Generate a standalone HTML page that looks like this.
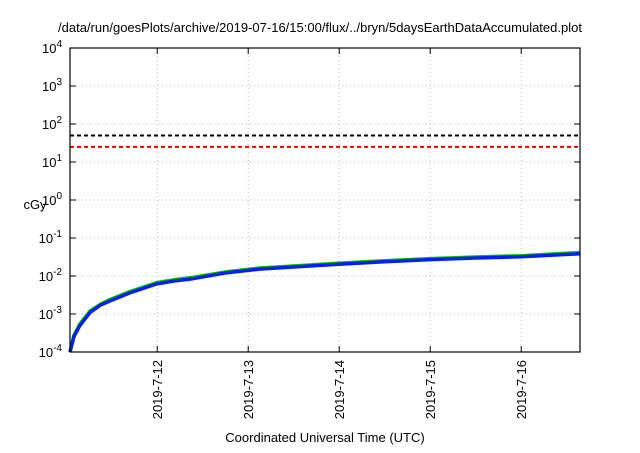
<!DOCTYPE html>
<html><head><meta charset="utf-8"><style>
body{margin:0;background:#fff;font-family:"Liberation Sans",sans-serif}
svg text{font-family:"Liberation Sans",sans-serif;fill:#000}
</style></head><body>
<svg id="c" width="640" height="448" xmlns="http://www.w3.org/2000/svg"></svg>
<script>
const hours=[0,1,2.6,5.3,8,10.5,15.8,22.9,28,32.4,41.4,50,60,71,83,95,107,119,134.5];
const blueVals=[0.0001,0.00025,0.0005,0.0011,0.0017,0.0022,0.0036,0.0062,0.0075,0.0085,0.0122,0.0152,0.0175,0.0205,0.0238,0.027,0.0298,0.032,0.0385];
const greenVals=[0.0001,0.00027,0.00055,0.0012,0.0018,0.0024,0.0039,0.0067,0.0081,0.0092,0.013,0.0162,0.0186,0.0218,0.0253,0.0287,0.0317,0.0342,0.0415];
const yTickExp=[-4,-3,-2,-1,0,1,2,3,4];
const xTickLabels=["2019-7-12","2019-7-13","2019-7-14","2019-7-15","2019-7-16"];
const xTickHours=[23,47,71,95,119];
const thresholds=[50,25];
const thresholdColors=["#000","#e00"];
const L=70,R=580,T=48,B=352;
const startH=0,endH=134.5;
function X(h){return L+(h-startH)/(endH-startH)*(R-L);}
function Y(v){return B-(Math.log10(v)+4)/8*(B-T);}
const svg=document.getElementById('c');const NS="http://www.w3.org/2000/svg";
function el(t,a,p){const e=document.createElementNS(NS,t);for(const k in a)e.setAttribute(k,a[k]);(p||svg).appendChild(e);return e;}
const title=el('text',{x:320,y:32,'text-anchor':'middle','font-size':13});


title.textContent="/data/run/goesPlots/archive/2019-07-16/15:00/flux/../bryn/5daysEarthDataAccumulated.plot";
yTickExp.forEach(e=>{const y=Y(Math.pow(10,e));
 if(e>-4&&e<4){const g=el('line',{x1:L,x2:R,y1:y,y2:y,stroke:'#bbb','stroke-dasharray':'1,3'});
 }
 const t=el('text',{x:L-8,y:y+5,'text-anchor':'end','font-size':13});
 
 
 t.textContent='10';const s=el('tspan',{dy:-6,'font-size':10},t);s.textContent=e;
 el('line',{x1:L,x2:L+6,y1:y,y2:y,stroke:'#000'});el('line',{x1:R,x2:R-6,y1:y,y2:y,stroke:'#000'});
});
xTickHours.forEach((h,i)=>{const x=X(h);
 const g=el('line',{x1:x,x2:x,y1:T,y2:B,stroke:'#bbb','stroke-dasharray':'1,3'});
 
 el('line',{x1:x,x2:x,y1:B,y2:B-6,stroke:'#000'});el('line',{x1:x,x2:x,y1:T,y2:T+6,stroke:'#000'});
 const t=el('text',{transform:`translate(${x+5},${B+8}) rotate(-90)`,'text-anchor':'end','font-size':13});
 
 
 t.textContent=xTickLabels[i];
});
thresholds.forEach((v,i)=>{const l=el('line',{x1:L,x2:R,y1:Y(v),y2:Y(v),stroke:thresholdColors[i],'stroke-width':2,'stroke-dasharray':'4,3'});
 
 });
function series(vals,col,name){const d=hours.map((h,i)=>(i?'L':'M')+X(h).toFixed(1)+','+Y(vals[i]).toFixed(1)).join('');
 const p=el('path',{d:d,fill:'none',stroke:col,'stroke-width':3.5,'stroke-linejoin':'round'});
 
 }
series(greenVals,'#00c000','green-series');
series(blueVals,'#0020f0','blue-series');
const fr=el('rect',{x:L,y:T,width:R-L,height:B-T,fill:'none',stroke:'#000','stroke-width':1.2});

const yl=el('text',{x:35,y:209,'text-anchor':'middle','font-size':13});
yl.textContent='cGy';
const xl=el('text',{x:325,y:442,'text-anchor':'middle','font-size':13});
xl.textContent='Coordinated Universal Time (UTC)';
</script>
</body></html>
